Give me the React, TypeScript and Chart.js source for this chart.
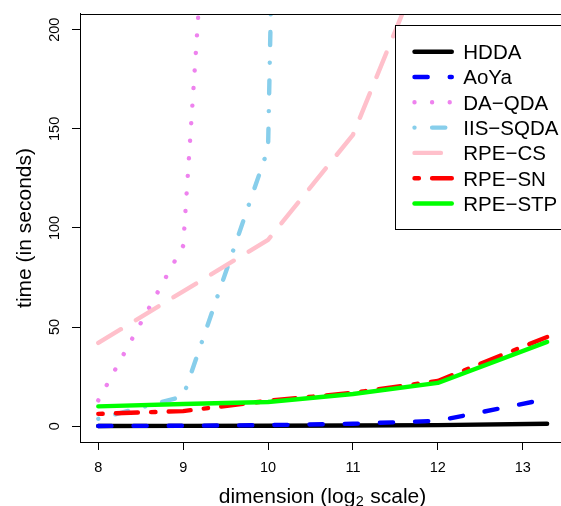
import React, { useEffect, useRef } from "react";
import { Chart, registerables } from "chart.js";

Chart.register(...registerables);

// ---- data ----
const dimensions = [8, 9, 10, 11, 12, 13.2877];
const seriesLabels = ["HDDA", "AoYa", "DA\u2212QDA", "IIS\u2212SQDA", "RPE\u2212CS", "RPE\u2212SN", "RPE\u2212STP"];
const hddaTimes = [0.1, 0.15, 0.2, 0.3, 0.5, 1.2];
const aoyaTimes = [0.1, 0.2, 0.5, 1.2, 2.7, 13.7];
const daQdaTimes = [13, 91, 745, null, null, null];
const iisSqdaTimes = [3.7, 15, 140, 2300, null, null];
const rpeCsTimes = [42, 68, 94, 147, 252, null];
const rpeSnTimes = [6.2, 7.6, 12.8, 16.8, 22.8, 45];
const rpeStpTimes = [10, 11.2, 12.2, 16.2, 21.8, 42.5];
const xTickValues = [8, 9, 10, 11, 12, 13];
const yTickValues = [0, 50, 100, 150, 200];
const xTitleParts = ["dimension (log", "2", " scale)"];
const yTitle = "time (in seconds)";

// ---- styles ----
const seriesColors = ["#000000", "#0000FF", "#EE82EE", "#87CEEB", "#FFC0CB", "#FF0000", "#00FF00"];
const U = 4.4;
const LW = 4.4;
// R line types (on/off in units of U), converted for round caps
const rLty = [[], [4, 4], [1, 3], [1, 3, 4, 3], [7, 3], [2, 2, 6, 2], []];
const seriesDashes = rLty.map((p) =>
  p.map((v, k) => (k % 2 === 0 ? Math.max(0.001, v * U - LW) : v * U + LW))
);
const FONT = '"Liberation Sans", Arial, Helvetica, sans-serif';

const allSeries = [hddaTimes, aoyaTimes, daQdaTimes, iisSqdaTimes, rpeCsTimes, rpeSnTimes, rpeStpTimes];

const decorPlugin = {
  id: "rdecor",
  afterDraw(chart: any) {
    const { ctx, chartArea: a } = chart;
    ctx.save();
    // top border of the plot box
    ctx.strokeStyle = "#000";
    ctx.lineWidth = 1;
    ctx.setLineDash([]);
    ctx.beginPath();
    ctx.moveTo(a.left, Math.round(a.top) + 0.5);
    ctx.lineTo(chart.width, Math.round(a.top) + 0.5);
    ctx.stroke();

    // x axis title with subscript
    ctx.fillStyle = "#000";
    ctx.textBaseline = "alphabetic";
    ctx.textAlign = "left";
    const big = `21px ${FONT}`;
    const small = `14.5px ${FONT}`;
    ctx.font = big;
    const w1 = ctx.measureText(xTitleParts[0]).width;
    const w3 = ctx.measureText(xTitleParts[2]).width;
    ctx.font = small;
    const w2 = ctx.measureText(xTitleParts[1]).width;
    const total = w1 + w2 + w3 + 1;
    const cx = 322.5;
    let x = cx - total / 2;
    const by = 502.5;
    ctx.font = big;
    ctx.fillText(xTitleParts[0], x, by);
    x += w1 + 0.5;
    ctx.font = small;
    ctx.fillText(xTitleParts[1], x, by + 3.5);
    x += w2 + 0.5;
    ctx.font = big;
    ctx.fillText(xTitleParts[2], x, by);

    // y axis title
    ctx.save();
    ctx.translate(30.5, (a.top + a.bottom) / 2);
    ctx.rotate(-Math.PI / 2);
    ctx.textAlign = "center";
    ctx.font = big;
    ctx.fillText(yTitle, 0, 0);
    ctx.restore();

    // legend
    const lx0 = 395.5;
    const ly0 = 25.5;
    const ly1 = 229.5;
    ctx.fillStyle = "#fff";
    ctx.fillRect(lx0, ly0, chart.width - lx0 + 10, ly1 - ly0);
    ctx.strokeStyle = "#000";
    ctx.lineWidth = 1;
    ctx.strokeRect(lx0, ly0, chart.width - lx0 + 10, ly1 - ly0);
    chart.data.datasets.forEach((ds: any, i: number) => {
      const y = 51.7 + i * 25.3;
      ctx.save();
      ctx.strokeStyle = ds.borderColor;
      ctx.lineWidth = LW;
      ctx.lineCap = "round";
      ctx.setLineDash(ds.borderDash || []);
      ctx.beginPath();
      ctx.moveTo(412.3 + LW / 2, y);
      ctx.lineTo(454 - LW / 2, y);
      ctx.stroke();
      ctx.restore();
      ctx.fillStyle = "#000";
      ctx.font = `20.5px ${FONT}`;
      ctx.textAlign = "left";
      ctx.textBaseline = "alphabetic";
      ctx.fillText(ds.label, 463.3, y + 7.3);
    });
    ctx.restore();
  },
};

export default function App() {
  const ref = useRef<HTMLCanvasElement | null>(null);
  useEffect(() => {
    if (!ref.current) return;
    const n = seriesLabels.length;
    const chart = new Chart(ref.current, {
      type: "line",
      data: {
        datasets: seriesLabels.map((label, i) => ({
          label,
          data: dimensions.map((d, j) => ({ x: d, y: allSeries[i][j] })),
          borderColor: seriesColors[i],
          backgroundColor: seriesColors[i],
          borderWidth: LW,
          borderDash: seriesDashes[i],
          borderCapStyle: "round",
          borderJoinStyle: "round",
          pointRadius: 0,
          tension: 0,
          fill: false,
          clip: 0,
          order: n - 1 - i,
        })),
      },
      options: {
        animation: false,
        responsive: false,
        devicePixelRatio: 1,
        layout: { padding: { top: 9, left: 0, right: 0, bottom: 0 } },
        plugins: { legend: { display: false }, tooltip: { enabled: false }, title: { display: false } },
        events: [],
        scales: {
          x: {
            type: "linear",
            min: 7.7844,
            max: 13.4512,
            afterBuildTicks: (s: any) => {
              s.ticks = xTickValues.map((v) => ({ value: v }));
            },
            afterFit: (s: any) => {
              s.height = 64;
            },
            grid: { drawOnChartArea: false, drawTicks: true, tickLength: 8, color: "#000", lineWidth: 1 },
            border: { display: true, color: "#000", width: 1 },
            ticks: {
              color: "#000",
              font: { family: FONT, size: 14.5 },
              padding: 9.6,
              maxRotation: 0,
              minRotation: 0,
              autoSkip: false,
              callback: (v: any) => String(v),
            },
          },
          y: {
            type: "linear",
            min: -8,
            max: 208,
            afterBuildTicks: (s: any) => {
              s.ticks = yTickValues.map((v) => ({ value: v }));
            },
            afterFit: (s: any) => {
              s.width = 80;
            },
            grid: { drawOnChartArea: false, drawTicks: true, tickLength: 8, color: "#000", lineWidth: 1 },
            border: { display: true, color: "#000", width: 1 },
            ticks: {
              color: "#000",
              font: { family: FONT, size: 14.5 },
              padding: 5.2,
              minRotation: 90,
              maxRotation: 90,
              crossAlign: "center",
              autoSkip: false,
              callback: (v: any) => String(v),
            },
          },
        },
      },
      plugins: [decorPlugin],
    } as any);
    return () => chart.destroy();
  }, []);
  return (
    <div style={{ position: "fixed", left: 0, top: 0, width: 561, height: 506, background: "#fff" }}>
      <canvas ref={ref} width={561} height={506} style={{ width: 561, height: 506, display: "block" }} />
    </div>
  );
}
